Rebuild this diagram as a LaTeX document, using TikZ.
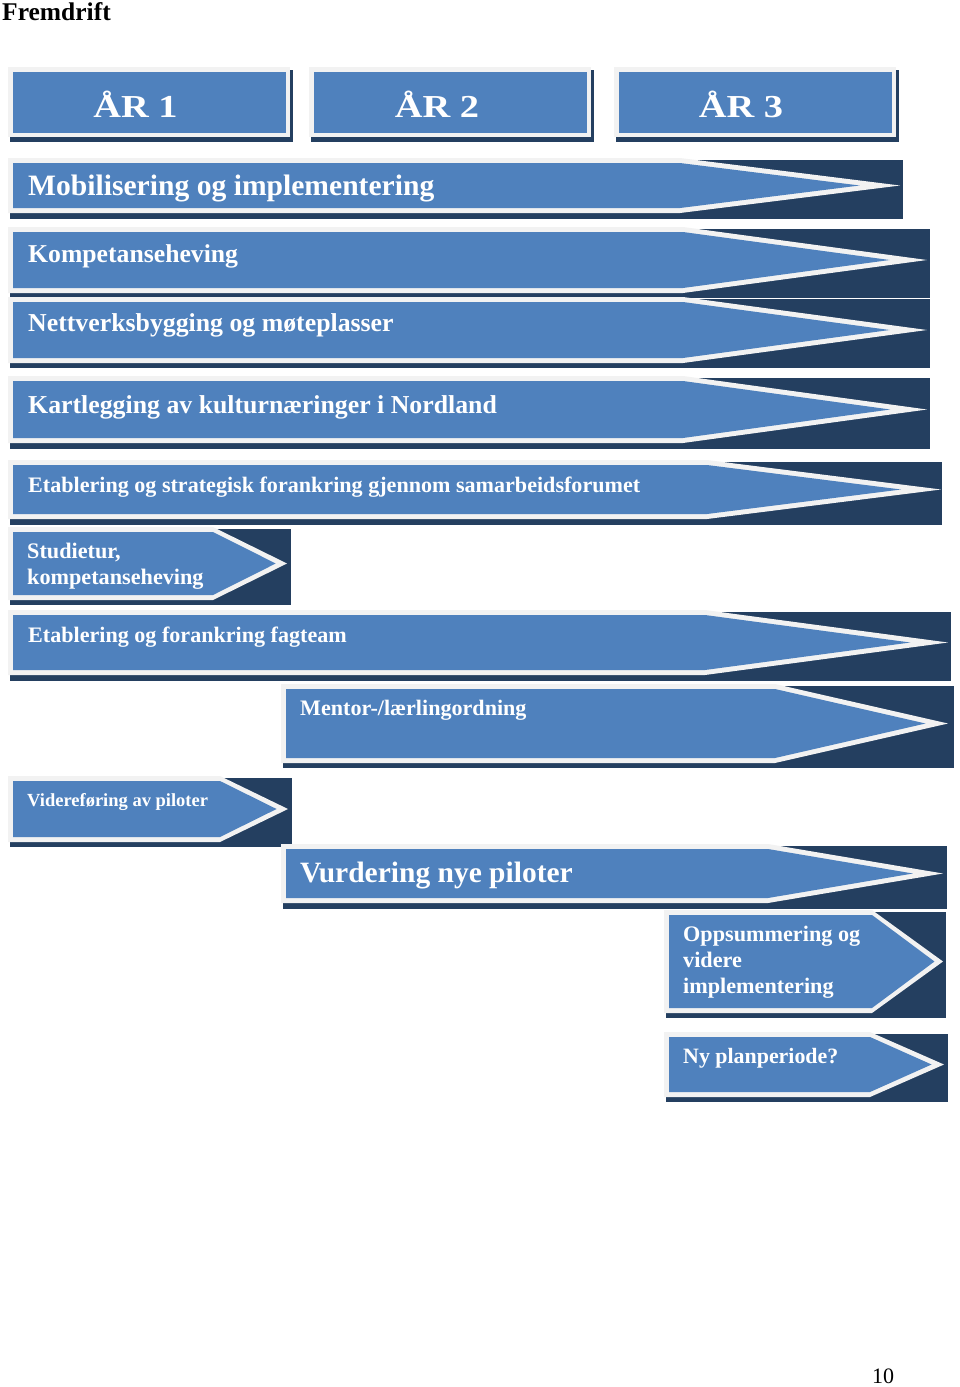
\documentclass[tikz,border=0pt]{standalone}
\usepackage{fontspec}
\setmainfont{Liberation Serif}
\definecolor{barblue}{HTML}{4F81BD}
\definecolor{bardark}{HTML}{243F60}
\definecolor{barpale}{HTML}{F2F2F2}
\newcommand{\myfs}[2]{\fontsize{#1}{#2}\selectfont}
\tikzset{
  lbl/.style={text=white, font=\bfseries, inner sep=0pt, anchor=base west, align=left},
  yearlbl/.style={text=white, font=\bfseries, inner sep=0pt, anchor=base}
}
% xL, yT, yB, xS, xT, xR, yD
\newcommand{\chevbar}[7]{%
  \fill[bardark] ({#1+2},{#2+2}) rectangle (#6,#7);
  \pgfmathsetmacro\cbym{(#2+#3)/2}%
  \pgfmathsetmacro\cbang{atan(((#3-#2)/2)/(#5-#4))}%
  \pgfmathsetmacro\cbtip{#5-5/sin(\cbang)}%
  \fill[barpale] (#1,#2) -- (#4,#2) -- (#5,\cbym) -- (#4,#3) -- (#1,#3) -- cycle;
  \fill[barblue] ({#1+5},{#2+5}) -- (#4,{#2+5}) -- (\cbtip,\cbym) -- (#4,{#3-5}) -- ({#1+5},{#3-5}) -- cycle;
}
% xL, yT, xR(white), yB(white), xD, yD
\newcommand{\yearbox}[6]{%
  \fill[bardark] ({#1+2},{#2+3}) rectangle (#5,#6);
  \fill[barpale] (#1,#2) rectangle (#3,#4);
  \fill[barblue] ({#1+5},{#2+5}) rectangle ({#3-4},{#4-4});
}
\begin{document}
\begin{tikzpicture}[x=1pt,y=-1pt]
\useasboundingbox (0,0) rectangle (960,1387);
\fill[white] (0,0) rectangle (960,1387);

\node[inner sep=0pt, anchor=base west, font=\bfseries\myfs{25.5}{25.5}] (title) at (2,20) {Fremdrift};

% year boxes
\yearbox{8}{67}{290}{137}{293}{142}
\yearbox{309}{67}{591}{137}{594}{142}
\yearbox{614}{67}{896}{137}{899}{142}
\node[yearlbl] (y1) at (135.5,117) {\scalebox{1.2}[1]{\myfs{32}{32}ÅR 1}};
\node[yearlbl] (y2) at (437,117) {\scalebox{1.2}[1]{\myfs{32}{32}ÅR 2}};
\node[yearlbl] (y3) at (741,117) {\scalebox{1.2}[1]{\myfs{32}{32}ÅR 3}};

% rows
\chevbar{8}{158}{213}{680}{900}{903}{219}
\node[lbl, font=\bfseries\myfs{29.6}{30}] (r1) at (28,195) {Mobilisering og implementering};

\chevbar{8}{227}{293}{683}{927}{930}{298}
\node[lbl, font=\bfseries\myfs{25.7}{26}] (r2) at (28,262) {Kompetanseheving};

\chevbar{8}{297}{363}{683}{927}{930}{368}
\node[lbl, font=\bfseries\myfs{25.8}{26}] (r3) at (28,331) {Nettverksbygging og møteplasser};

\chevbar{8}{376}{443}{683}{927}{930}{449}
\node[lbl, font=\bfseries\myfs{25.8}{26}] (r4) at (28,413) {Kartlegging av kulturnæringer i Nordland};

\chevbar{8}{460}{519}{707}{941}{942}{525}
\node[lbl, font=\bfseries\myfs{22.1}{26}] (r5) at (28,492) {Etablering og strategisk forankring gjennom samarbeidsforumet};

\chevbar{8}{527}{600}{213}{287}{291}{605}
\node[lbl, font=\bfseries\myfs{22.2}{26}] (r6) at (27,584) {Studietur,\\kompetanseheving};

\chevbar{8}{610}{675}{705}{948}{951}{681}
\node[lbl, font=\bfseries\myfs{22.1}{26}] (r7) at (28,642) {Etablering og forankring fagteam};

\chevbar{281}{684}{763}{775}{948}{954}{768}
\node[lbl, font=\bfseries\myfs{22.1}{26}] (r8) at (300,715) {Mentor-/lærlingordning};

\chevbar{8}{776}{842}{220}{288}{292}{847}
\node[lbl, font=\bfseries\myfs{18.5}{22}] (r9) at (27,806) {Videreføring av piloter};

\chevbar{281}{844}{903}{768}{943}{947}{909}
\node[lbl, font=\bfseries\myfs{29.5}{30}] (r10) at (300,882) {Vurdering nye piloter};

\chevbar{664}{910}{1013}{872}{943}{946}{1018}
\node[lbl, font=\bfseries\myfs{22.2}{26}] (r11) at (683,993) {Oppsummering og\\videre\\implementering};

\chevbar{664}{1032}{1097}{870}{944}{948}{1102}
\node[lbl, font=\bfseries\myfs{21.9}{26}] (r12) at (683,1063) {Ny planperiode?};

\node[inner sep=0pt, anchor=base west, font=\myfs{22}{22}] (page) at (872,1383) {10};
\end{tikzpicture}
\end{document}
